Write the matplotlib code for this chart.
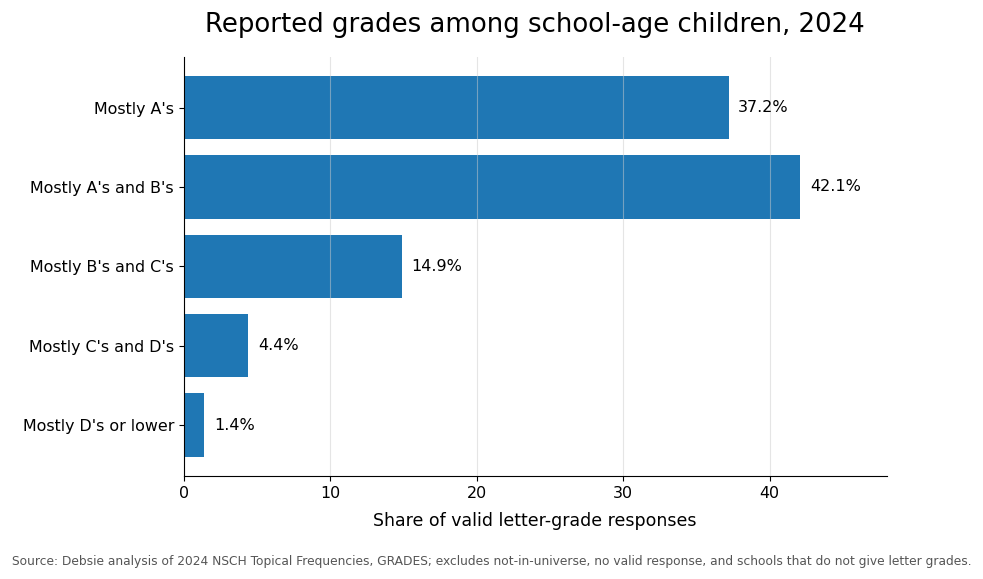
import matplotlib
matplotlib.use("Agg")
import matplotlib.pyplot as plt

categories = ["Mostly A's", "Mostly A's and B's", "Mostly B's and C's",
              "Mostly C's and D's", "Mostly D's or lower"]
shares = [37.2, 42.1, 14.9, 4.4, 1.4]

fig = plt.figure(figsize=(9.83, 5.79), dpi=100)
ax = fig.add_axes([0.187, 0.178, 0.715, 0.724])

bars = ax.barh(categories, shares, height=0.8, color="#1f77b4")
ax.invert_yaxis()
ax.bar_label(bars, labels=[f"{v:.1f}%" for v in shares], padding=7, fontsize=11.5)

ax.set_xlim(0, 48.0)
ax.grid(axis="x", color="#cccccc", alpha=0.5, linewidth=0.8)
ax.set_axisbelow(False)
for s in ["top", "right"]:
    ax.spines[s].set_visible(False)
for s in ["left", "bottom"]:
    ax.spines[s].set_color("black")
    ax.spines[s].set_zorder(5)
ax.tick_params(labelsize=11.4)
ax.set_xlabel("Share of valid letter-grade responses", fontsize=12.5, labelpad=8)
ax.set_title("Reported grades among school-age children, 2024", fontsize=18.7, pad=18)

fig.text(0.012, 0.025, "Source: Debsie analysis of 2024 NSCH Topical Frequencies, GRADES; excludes "
         "not-in-universe, no valid response, and schools that do not give letter grades.",
         fontsize=8.8, color="#555555")

fig.savefig("out.png", dpi=100)
